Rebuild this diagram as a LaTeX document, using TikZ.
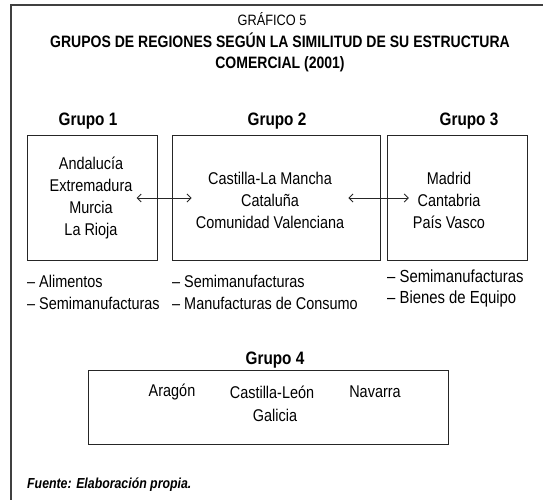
\documentclass[tikz,border=0pt]{standalone}
\usepackage{fontspec}
\setmainfont{Liberation Sans}[FakeStretch=0.85]
\usetikzlibrary{positioning, arrows.meta}

\begin{document}
\begin{tikzpicture}[x=1pt, y=-1pt,
    caja/.style={draw=black!85, line width=1pt, inner sep=0pt},
    grupo/.style={font=\fontsize{18}{20}\selectfont\bfseries},
    regiones/.style={align=center, inner sep=4pt, font=\fontsize{17}{22}\selectfont},
    lista/.style={anchor=north west, align=left, inner sep=0pt, font=\fontsize{17}{22}\selectfont},
    flecha/.style={{Straight Barb[length=4pt, width=8pt]}-{Straight Barb[length=4pt, width=8pt]}, line width=0.9pt, black!85}]
    % marco
    \useasboundingbox (0,0) rectangle (543,500);
    \draw[black!75, line width=1.2pt] (543,5) -- (11,5) -- (11,500);

    % titulo
    \node[font=\fontsize{15}{18}\selectfont] (num) at (272,19) {GRÁFICO 5};
    \node[align=center, font=\fontsize{16.5}{21}\selectfont\bfseries] (titulo) at (280,52.5)
        {GRUPOS DE REGIONES SEGÚN LA SIMILITUD DE SU ESTRUCTURA\\COMERCIAL (2001)};

    % grupos 1 a 3
    \node[grupo] (g1) at (88,121) {Grupo 1};
    \node[grupo] (g2) at (277,121) {Grupo 2};
    \node[grupo] (g3) at (469,121) {Grupo 3};

    \node[caja, minimum width=130pt, minimum height=125pt] (caja1) at (92,197.5) {};
    \node[caja, minimum width=208pt, minimum height=125pt] (caja2) at (276,197.5) {};
    \node[caja, minimum width=140pt, minimum height=125pt] (caja3) at (457,197.5) {};

    \node[regiones] (reg1) at (91,198) {Andalucía\\Extremadura\\Murcia\\La Rioja};
    \node[regiones] (reg2) at (270,200) {Castilla-La Mancha\\Cataluña\\Comunidad Valenciana};
    \node[regiones] (reg3) at (449,200) {Madrid\\Cantabria\\País Vasco};

    \draw[flecha] (reg1.east) -- (reg2.west |- reg1.east);
    \draw[flecha] (reg2.east |- reg1.east) -- (reg3.west |- reg1.east);

    % productos
    \node[lista] (lista1) at (27,275) {-- Alimentos\\-- Semimanufacturas};
    \node[lista] (lista2) at (172,275) {-- Semimanufacturas\\-- Manufacturas de Consumo};
    \node[lista, font=\fontsize{17.5}{21}\selectfont] (lista3) at (387,270) {-- Semimanufacturas\\-- Bienes de Equipo};

    % grupo 4
    \node[grupo] (g4) at (275,360) {Grupo 4};
    \node[caja, minimum width=360pt, minimum height=74pt] (caja4) at (268,407) {};
    \node[regiones] (arag) at (172,392) {Aragón};
    \node[regiones] (cleon) at (272,392) {Castilla-León};
    \node[regiones] (nav) at (375,392) {Navarra};
    \node[regiones] (gal) at (275,415) {Galicia};

    % fuente
    \node[anchor=west, inner sep=0pt, font=\fontsize{14.5}{16}\selectfont\bfseries\itshape] (fuente) at (27,485)
        {Fuente: Elaboración propia.};
\end{tikzpicture}
\end{document}
